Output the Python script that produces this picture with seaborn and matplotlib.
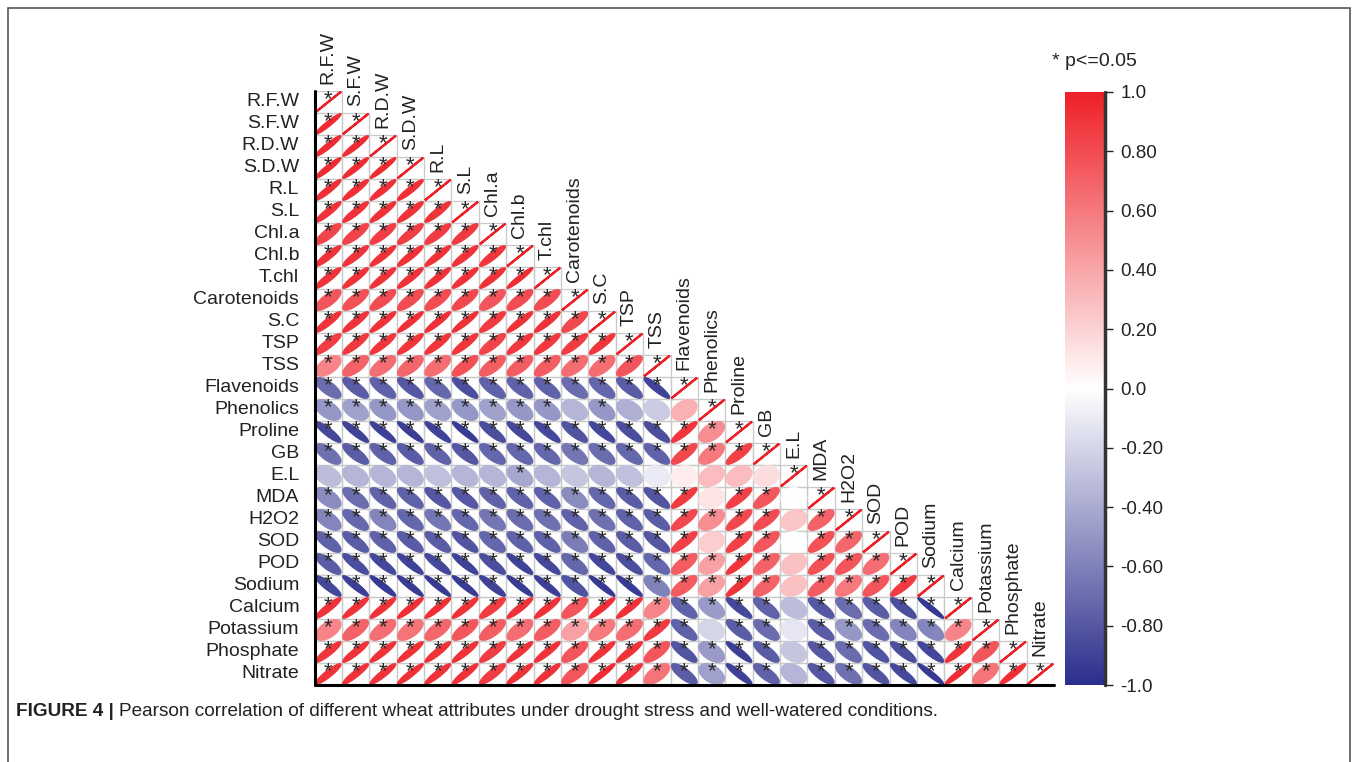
import numpy as np
import pandas as pd
import matplotlib
matplotlib.use("Agg")
import matplotlib.pyplot as plt
from matplotlib.colors import LinearSegmentedColormap
from matplotlib.patches import Polygon, Rectangle
import seaborn as sns

# Traits, in the order of the correlation matrix
traits = ["R.F.W", "S.F.W", "R.D.W", "S.D.W", "R.L", "S.L", "Chl.a", "Chl.b",
          "T.chl", "Carotenoids", "S.C", "TSP", "TSS", "Flavenoids", "Phenolics",
          "Proline", "GB", "E.L", "MDA", "H2O2", "SOD", "POD", "Sodium",
          "Calcium", "Potassium", "Phosphate", "Nitrate"]

# Lower-triangle Pearson r, one list per trait (against the traits listed before it)
r_SFW = [0.95]
r_RDW = [0.94, 0.94]
r_SDW = [0.94, 0.94, 0.95]
r_RL = [0.93, 0.93, 0.93, 0.93]
r_SL = [0.92, 0.92, 0.92, 0.91, 0.91]
r_Chla = [0.83, 0.84, 0.86, 0.87, 0.87, 0.88]
r_Chlb = [0.91, 0.91, 0.92, 0.92, 0.92, 0.91, 0.90]
r_Tchl = [0.91, 0.92, 0.92, 0.92, 0.92, 0.92, 0.92, 0.95]
r_Carot = [0.75, 0.78, 0.80, 0.80, 0.80, 0.82, 0.75, 0.80, 0.80]
r_SC = [0.91, 0.91, 0.92, 0.93, 0.93, 0.93, 0.88, 0.92, 0.92, 0.82]
r_TSP = [0.87, 0.89, 0.90, 0.90, 0.90, 0.90, 0.84, 0.89, 0.89, 0.87, 0.90]
r_TSS = [0.55, 0.70, 0.65, 0.68, 0.65, 0.78, 0.72, 0.72, 0.72, 0.65, 0.65, 0.75]
r_Flav = [-0.70, -0.78, -0.75, -0.80, -0.72, -0.85, -0.75, -0.75, -0.75, -0.70,
          -0.72, -0.78, -0.90]
r_Phen = [-0.50, -0.45, -0.50, -0.50, -0.45, -0.50, -0.45, -0.50, -0.50, -0.35,
          -0.50, -0.38, -0.25, 0.35]
r_Prol = [-0.88, -0.90, -0.91, -0.92, -0.90, -0.93, -0.85, -0.88, -0.88, -0.82,
          -0.88, -0.85, -0.85, 0.90, 0.50]
r_GB = [-0.68, -0.78, -0.75, -0.78, -0.75, -0.80, -0.72, -0.72, -0.72, -0.65,
        -0.70, -0.72, -0.75, 0.82, 0.60, 0.85]
r_EL = [-0.32, -0.35, -0.35, -0.35, -0.30, -0.35, -0.35, -0.42, -0.35, -0.28,
        -0.35, -0.30, -0.10, 0.08, 0.30, 0.30, 0.15]
r_MDA = [-0.55, -0.70, -0.75, -0.75, -0.80, -0.80, -0.75, -0.75, -0.75, -0.55,
         -0.72, -0.78, -0.82, 0.88, 0.12, 0.85, 0.75, 0.00]
r_H2O2 = [-0.58, -0.72, -0.58, -0.72, -0.65, -0.72, -0.65, -0.70, -0.68, -0.75,
          -0.68, -0.75, -0.78, 0.82, 0.50, 0.82, 0.80, 0.25, 0.70]
r_SOD = [-0.75, -0.78, -0.75, -0.78, -0.78, -0.82, -0.72, -0.75, -0.75, -0.62,
         -0.75, -0.78, -0.80, 0.85, 0.22, 0.85, 0.75, 0.00, 0.78, 0.68]
r_POD = [-0.78, -0.85, -0.88, -0.90, -0.88, -0.90, -0.85, -0.90, -0.88, -0.72,
         -0.88, -0.85, -0.72, 0.72, 0.42, 0.90, 0.70, 0.28, 0.78, 0.75, 0.65]
r_Na = [-0.88, -0.92, -0.93, -0.93, -0.94, -0.93, -0.90, -0.93, -0.92, -0.82,
        -0.94, -0.93, -0.60, 0.72, 0.42, 0.91, 0.70, 0.28, 0.72, 0.60, 0.75, 0.88]
r_Ca = [0.91, 0.92, 0.92, 0.93, 0.93, 0.92, 0.87, 0.92, 0.92, 0.75, 0.93, 0.92,
        0.55, -0.75, -0.48, -0.88, -0.75, -0.32, -0.80, -0.70, -0.78, -0.85, -0.95]
r_K = [0.55, 0.70, 0.65, 0.62, 0.68, 0.75, 0.72, 0.65, 0.72, 0.42, 0.60, 0.65,
       0.88, -0.75, -0.20, -0.78, -0.70, -0.12, -0.78, -0.50, -0.70, -0.58, -0.58,
       0.55]
r_P = [0.90, 0.92, 0.92, 0.92, 0.92, 0.92, 0.87, 0.92, 0.92, 0.75, 0.92, 0.91,
       0.75, -0.82, -0.48, -0.91, -0.78, -0.28, -0.80, -0.70, -0.82, -0.85, -0.88,
       0.91, 0.75]
r_NO3 = [0.91, 0.92, 0.92, 0.93, 0.92, 0.92, 0.87, 0.92, 0.92, 0.75, 0.94, 0.91,
         0.62, -0.78, -0.45, -0.91, -0.75, -0.35, -0.80, -0.68, -0.82, -0.88, -0.94,
         0.94, 0.62, 0.93]

colorbar_ticks = [-1.0, -0.8, -0.6, -0.4, -0.2, 0.0, 0.2, 0.4, 0.6, 0.8, 1.0]
colorbar_labels = ["-1.0", "-0.80", "-0.60", "-0.40", "-0.20", "0.0",
                   "0.20", "0.40", "0.60", "0.80", "1.0"]

# |r| needed for p <= 0.05 with 24 observations (two-sided)
SIG_R = 0.404

lower_rows = [[], r_SFW, r_RDW, r_SDW, r_RL, r_SL, r_Chla, r_Chlb, r_Tchl, r_Carot,
              r_SC, r_TSP, r_TSS, r_Flav, r_Phen, r_Prol, r_GB, r_EL, r_MDA, r_H2O2,
              r_SOD, r_POD, r_Na, r_Ca, r_K, r_P, r_NO3]

n = len(traits)
corr = np.eye(n)
for i, row in enumerate(lower_rows):
    for j, v in enumerate(row):
        corr[i, j] = corr[j, i] = v

sns.set_theme(style="white")
plt.rcParams["font.family"] = ["Liberation Sans", "DejaVu Sans"]

W, H = 1358, 762
fig = plt.figure(figsize=(W / 100, H / 100), dpi=100)


def fx(px):
    return px / W


def fy(py):
    return 1 - py / H


ax = fig.add_axes([fx(314.5), fy(685), (1054 - 314.5) / W, (685 - 91) / H])
cax = fig.add_axes([fx(1065), fy(685), 40 / W, (685 - 92) / H])

cmap = LinearSegmentedColormap.from_list("bwr_corr", ["#2B2E8C", "#FFFFFF", "#EE2027"])
mask = np.triu(np.ones((n, n), dtype=bool), k=1)

# White lower-triangle background; the shared colour scale feeds the colorbar
grid = pd.DataFrame(np.zeros((n, n)), index=traits, columns=traits)
sns.heatmap(grid, mask=mask, cmap=cmap, vmin=-1, vmax=1, linewidths=0,
            ax=ax, cbar_ax=cax, xticklabels=False, yticklabels=traits)

mesh = ax.collections[0]
norm = mesh.norm

# Cell borders, lower triangle only
for i in range(n):
    for j in range(i + 1):
        ax.add_patch(Rectangle((j, i), 1, 1, fill=False, edgecolor="#c9c9c9",
                               lw=0.9, zorder=2))

# Ellipses: flattened along the diagonal by the strength of r
t = np.linspace(0, 2 * np.pi, 90)
for i in range(n):
    for j in range(i + 1):
        r = corr[i, j]
        d = np.arccos(np.clip(r, -1, 1))
        xs = j + 0.5 + 0.47 * np.cos(t + d / 2)
        ys = i + 0.5 - 0.47 * np.cos(t - d / 2)
        col = cmap(norm(r))
        ax.add_patch(Polygon(np.column_stack([xs, ys]), closed=True,
                             facecolor=col, edgecolor=col,
                             lw=1.6 if i == j else 0.8, zorder=3))
        if abs(r) >= SIG_R:
            ax.text(j + 0.5, i + 0.40, "*", ha="center", va="center",
                    fontsize=16, color="#2a2a2a", zorder=4)

# Column names sit on top of each diagonal cell
for k, name in enumerate(traits):
    ax.text(k + 0.5, k - 0.3, name, rotation=90, ha="center", va="bottom",
            fontsize=14, color="#222222")

ax.set_yticklabels(traits, rotation=0, fontsize=14, color="#222222")
ax.tick_params(axis="y", length=0, pad=11)
ax.tick_params(axis="x", length=0)
ax.set_xlabel("")
ax.set_ylabel("")
ax.plot([0, 0], [0, n], color="black", lw=2.2, clip_on=False, zorder=5)
ax.plot([0, n], [n, n], color="black", lw=2.2, clip_on=False, zorder=5)

cb = mesh.colorbar
cb.set_ticks(colorbar_ticks)
cb.set_ticklabels(colorbar_labels)
cb.outline.set_visible(False)
cb.ax.tick_params(labelsize=13.5, length=6, width=1, color="#222222",
                  labelcolor="#222222", pad=5, right=True)
cb.ax.plot([1, 1], [0, 1], transform=cb.ax.transAxes, color="#333333", lw=2.5,
           clip_on=False)

fig.text(fx(1052), fy(62), "* p<=0.05", fontsize=14, ha="left", va="center",
         color="#222222")

# Caption
cap_font = ["Liberation Sans Narrow", "Liberation Sans", "DejaVu Sans"]
t1 = fig.text(fx(16), fy(712), "FIGURE 4 |", fontsize=13.7, fontweight="bold",
              family=cap_font, ha="left", va="center", color="#222222")
fig.canvas.draw()
bb = t1.get_window_extent()
fig.text((bb.x1 + 5) / W, fy(712),
         "Pearson correlation of different wheat attributes under drought stress "
         "and well-watered conditions.",
         fontsize=13.7, family=cap_font, ha="left", va="center", color="#222222")

# Frame around the figure panel
fig.patches.append(Rectangle((fx(8), -0.05), fx(1350) - fx(8), fy(8) + 0.05,
                             transform=fig.transFigure, fill=False,
                             edgecolor="#555555", lw=1.2))

fig.savefig("out.png", dpi=100)
